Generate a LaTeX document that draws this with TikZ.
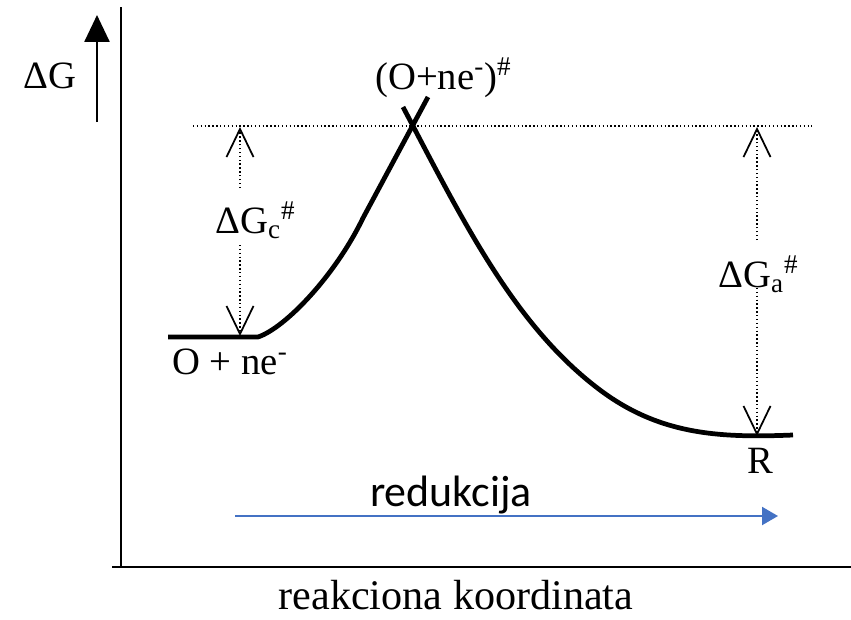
\documentclass[tikz,border=0pt]{standalone}
\usepackage{fontspec}
\setmainfont{Liberation Serif}
\newfontfamily\carlito{Carlito}
\usetikzlibrary{arrows.meta,calc,positioning}
\definecolor{RedPlava}{HTML}{4472C4}

\begin{document}
\begin{tikzpicture}[
      x=0.02cm, y=-0.02cm,
      osa/.style={draw=black, line width=1.2pt},
      kriva/.style={draw=black, line width=2.7pt, line join=round},
      nivo/.style={draw=black, line width=0.8pt, dash pattern=on 0.8pt off 1.4pt},
      strelica/.style={nivo, -{Straight Barb[length=0.56cm, width=0.54cm, line width=1pt]}},
      osastrelica/.style={-{Triangle[length=0.54cm, width=0.5cm]}, draw=black, line width=1.5pt},
      plavastrelica/.style={-{Triangle[length=0.32cm, width=0.36cm]}, draw=RedPlava, line width=1.2pt},
      oznaka/.style={font=\fontsize{22}{26}\selectfont, inner sep=0pt},
    ]
    \useasboundingbox (0,0) rectangle (851,619);

    % tacke
    \coordinate (ydno)  at (121,567);
    \coordinate (yvrh)  at (121,7);
    \coordinate (xlevo) at (112,567);
    \coordinate (xdesno) at (851,567);
    \coordinate (dgdno) at (97,122);
    \coordinate (dgvrh) at (97,15);
    \coordinate (nivol) at (193,126);
    \coordinate (nivod) at (812,126);
    \coordinate (cvrh)  at (240,127);
    \coordinate (cgore) at (240,188);
    \coordinate (cdole) at (240,245);
    \coordinate (cdno)  at (240,336);
    \coordinate (avrh)  at (757,127);
    \coordinate (agore) at (757,240);
    \coordinate (adole) at (757,288);
    \coordinate (adno)  at (757,436);
    \coordinate (redl)  at (235,516);
    \coordinate (redd)  at (778,516);

    % oznake
    \node[oznaka, anchor=base west] (dg)     at (23,88)   {ΔG};
    \node[oznaka, anchor=base west] (prelaz) at (375,89)  {(O+ne\textsuperscript{-})\textsuperscript{\#}};
    \node[oznaka, anchor=base west] (dgc)    at (215,233) {ΔG\textsubscript{c}\textsuperscript{\#}};
    \node[oznaka, anchor=base west] (dga)    at (718,287) {ΔG\textsubscript{a}\textsuperscript{\#}};
    \node[oznaka, anchor=base west] (ox)     at (172,374) {O + ne\textsuperscript{-}};
    \node[oznaka, anchor=base west] (r)      at (747,473) {R};
    \node[oznaka, anchor=base, font=\carlito\fontsize{25}{30}\selectfont] (red) at (451,506) {redukcija};
    \node[oznaka, anchor=base, font=\fontsize{24}{28}\selectfont] (koord) at (456,609) {reakciona koordinata};

    % ose
    \draw[osa] (yvrh) -- (ydno);
    \draw[osa] (xlevo) -- (xdesno);
    \draw[osastrelica] (dgdno) -- (dgvrh);

    % nivo prelaznog stanja
    \draw[nivo] (nivol) -- (nivod);
    \draw[strelica] (cgore) -- (cvrh);
    \draw[strelica] (cdole) -- (cdno);
    \draw[strelica] (agore) -- (avrh);
    \draw[strelica] (adole) -- (adno);

    % kriva
    \draw[kriva] (168,337) -- (258,337) .. controls (285,328) and (335,276) .. (363,218) -- (428,97);
    \draw[kriva] (403,107) -- (413,126) .. controls (470,235) and (520,330) .. (600,390)
      .. controls (660,435) and (720,438) .. (793,435);

    \draw[plavastrelica] (redl) -- (redd);

  \end{tikzpicture}
\end{document}
